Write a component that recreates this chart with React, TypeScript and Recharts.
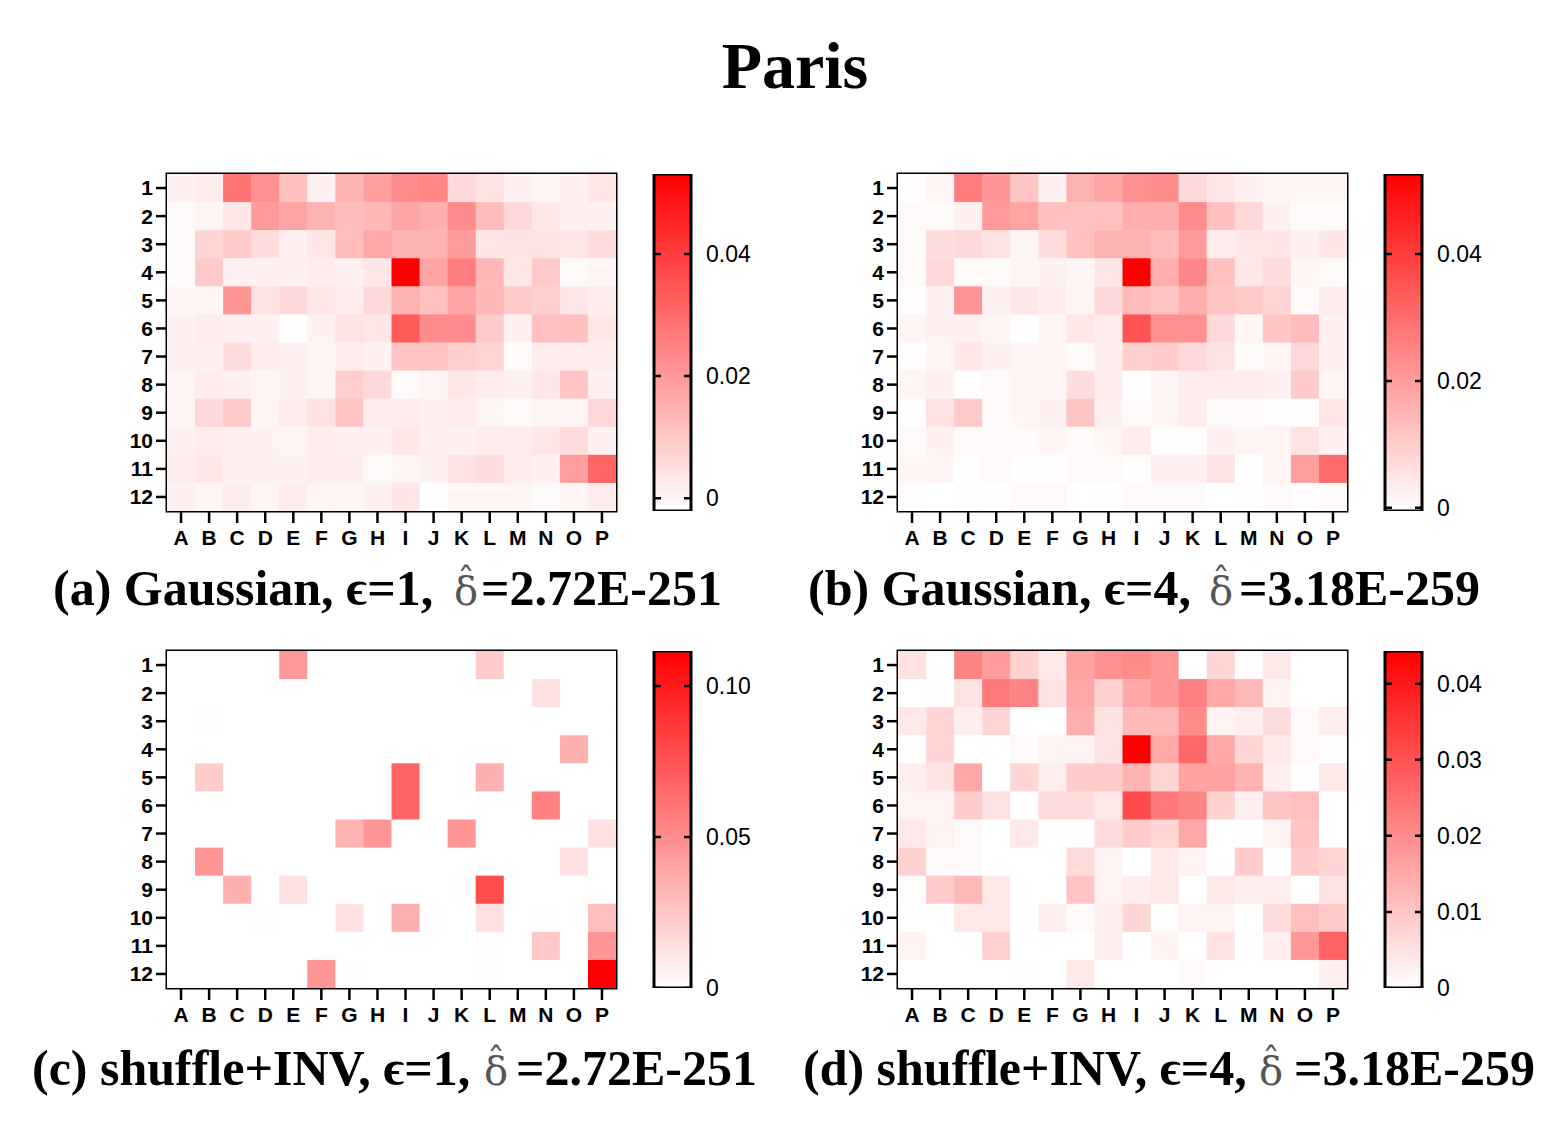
import React from 'react';
import { ScatterChart, Scatter, XAxis, YAxis, ReferenceArea } from 'recharts';

// ---------- labels ----------
const colLabels = ['A', 'B', 'C', 'D', 'E', 'F', 'G', 'H', 'I', 'J', 'K', 'L', 'M', 'N', 'O', 'P'];
const rowLabels = ['1', '2', '3', '4', '5', '6', '7', '8', '9', '10', '11', '12'];

// ---------- values (units of 1e-3) ----------
const gaussianEps1 = [
  [3, 4, 29, 23, 13, 3, 16, 20, 24, 25, 8, 6, 3, 2, 3, 5],
  [1, 2, 5, 21, 19, 16, 14, 15, 19, 17, 24, 14, 8, 5, 3, 3],
  [1, 9, 11, 7, 3, 5, 14, 18, 16, 16, 21, 5, 6, 6, 5, 7],
  [1, 11, 3, 3, 3, 4, 3, 5, 53, 19, 27, 15, 5, 11, 1, 2],
  [2, 2, 22, 6, 8, 5, 4, 8, 16, 13, 19, 15, 11, 10, 5, 4],
  [3, 4, 3, 3, 0.5, 3, 6, 5, 34, 24, 24, 11, 3, 13, 13, 5],
  [3, 3, 7, 4, 3, 2, 4, 3, 12, 12, 10, 9, 1, 4, 4, 4],
  [2, 4, 3, 2, 3, 2, 10, 8, 1, 2, 5, 4, 3, 5, 12, 3],
  [2, 8, 11, 2, 4, 6, 12, 4, 4, 3, 4, 2, 1, 2, 2, 8],
  [3, 4, 3, 3, 2, 4, 3, 3, 5, 3, 3, 4, 4, 5, 7, 3],
  [4, 5, 3, 3, 3, 4, 4, 1, 2, 3, 6, 7, 4, 3, 20, 32],
  [3, 2, 4, 2, 4, 2, 2, 3, 5, 0, 2, 2, 2, 1, 2, 4],
];

const gaussianEps4 = [
  [0.5, 2, 27, 22, 12, 3, 16, 19, 23, 24, 8, 5, 3, 2, 2, 2],
  [1, 1, 3, 21, 19, 13, 13, 13, 17, 17, 24, 13, 8, 3, 1, 1],
  [1, 7, 8, 6, 2, 7, 13, 16, 16, 14, 21, 4, 5, 5, 3, 5],
  [1, 8, 1, 1, 2, 3, 2, 5, 53, 17, 25, 13, 5, 7, 2, 1],
  [0.5, 3, 22, 3, 5, 4, 2, 8, 14, 12, 17, 12, 11, 9, 1, 4],
  [2, 3, 3, 2, 0.5, 2, 5, 4, 36, 23, 23, 8, 2, 12, 14, 3],
  [0.5, 2, 5, 3, 2, 2, 1, 4, 10, 11, 8, 6, 1, 2, 8, 3],
  [2, 3, 0.5, 1, 2, 2, 7, 4, 0, 2, 4, 4, 4, 3, 11, 2],
  [0.5, 6, 11, 1, 2, 3, 12, 3, 1, 2, 4, 1, 1, 0.5, 0.5, 5],
  [1, 3, 1, 1, 1, 2, 1, 2, 4, 0.5, 0.5, 3, 2, 2, 6, 3],
  [2, 2, 0.5, 1, 0.5, 0.5, 1, 1, 0.5, 3, 3, 6, 0, 2, 20, 31],
  [0.5, 0, 0.5, 0.5, 1, 1, 0, 0.5, 1, 1, 1, 0, 0.5, 1, 0.5, 1],
];

const shuffleInvEps1 = [
  [0, 0, 0, 0, 45, 0, 0, 0, 0, 0, 0, 22, 0, 0, 0, 0],
  [0, 0, 0, 0, 0, 0, 0, 0, 0, 0, 0, 0, 0, 13, 0, 0],
  [0, 1, 0, 0, 0, 0, 0, 0, 0, 0, 0, 0, 0, 0, 0, 0],
  [0, 0, 0, 0, 0, 0, 0, 0, 0, 0, 0, 0, 0, 0, 34, 0],
  [0, 22, 0, 0, 0, 0, 0, 0, 68, 0, 0, 34, 0, 0, 0, 0],
  [0, 0, 0, 0, 0, 0, 0, 0, 68, 0, 0, 0, 0, 55, 0, 0],
  [0, 0, 0, 0, 0, 0, 33, 46, 0, 0, 46, 0, 0, 0, 0, 13],
  [0, 46, 0, 0, 0, 0, 0, 0, 0, 0, 0, 0, 0, 0, 13, 0],
  [0, 0, 34, 0, 13, 0, 0, 0, 0, 0, 1, 78, 0, 0, 0, 0],
  [0, 0, 0, 1, 0, 0, 13, 0, 34, 1, 0, 13, 0, 1, 0, 28],
  [0, 0, 0, 0, 0, 0, 0, 0, 0, 0, 0, 1, 0, 24, 0, 46],
  [0, 0, 0, 0, 0, 46, 1, 0, 0, 0, 0, 1, 0, 0, 0, 111],
];

const shuffleInvEps4 = [
  [5, 0, 21, 17, 8, 4, 16, 19, 20, 18, 0, 7, 0.5, 4, 0, 0],
  [0, 0.5, 5, 23, 21, 5, 15, 8, 15, 18, 22, 15, 12, 2, 0, 0],
  [4, 7, 3, 7, 0, 0, 14, 5, 12, 12, 20, 2, 3, 6, 1, 3],
  [0, 7, 0, 0, 1, 2, 2, 5, 44, 15, 26, 15, 7, 4, 1, 0],
  [3, 5, 15, 0, 7, 3, 9, 9, 13, 7, 16, 16, 13, 3, 0, 4],
  [2, 2, 9, 5, 0, 6, 6, 4, 31, 23, 21, 8, 3, 10, 11, 0],
  [4, 2, 1, 0, 4, 0, 0, 6, 9, 7, 15, 0, 0, 2, 10, 0],
  [8, 1, 1, 0, 0, 0, 6, 2, 0, 4, 2, 0, 9, 0, 9, 7],
  [0.5, 9, 12, 4, 0, 0, 10, 2, 3, 4, 0, 4, 3, 3, 0, 5],
  [0, 0, 4, 4, 0, 3, 1, 3, 7, 0.5, 2, 2, 0, 6, 11, 9],
  [2, 0, 0, 8, 0, 0, 0, 3, 0, 2, 0, 5, 0, 3, 18, 27],
  [0, 0, 0, 0, 0.5, 0, 4, 0, 0, 0, 1, 0, 0, 0, 0, 3],
];

// colour-bar ranges (in data units) and ticks
const barRangeA = [-0.0021, 0.0531];
const barRangeB = [-0.0005, 0.0526];
const barRangeC = [0, 0.1116];
const barRangeD = [0, 0.0443];
const barTicksA = [0, 0.02, 0.04];
const barTicksB = [0, 0.02, 0.04];
const barTicksC = [0, 0.05, 0.1];
const barTicksD = [0, 0.01, 0.02, 0.03, 0.04];

// ---------- layout ----------
const PW = 449;
const PH = 337;
const YW = 48;
const XH = 46;
const M = 10;
const xTicks = colLabels.map((_, i) => i + 0.5);
const yTicks = rowLabels.map((_, i) => i + 0.5);

const toCells = (grid: number[][]) => {
  const out: { x: number; y: number; v: number }[] = [];
  grid.forEach((row, r) =>
    row.forEach((val, c) => out.push({ x: c + 0.5, y: r + 0.5, v: val / 1000 }))
  );
  return out;
};

const cellColor = (v: number, vmax: number) => {
  const t = Math.max(0, Math.min(1, v / vmax));
  const g = Math.round(255 * (1 - t));
  return `rgb(255,${g},${g})`;
};

const sans = '"Liberation Sans", Arial, sans-serif';
const tickFont = { fill: '#000', fontSize: 21, fontWeight: 700, fontFamily: sans };

function Heatmap({
  plotLeft,
  plotTop,
  grid,
  vmax,
}: {
  plotLeft: number;
  plotTop: number;
  grid: number[][];
  vmax: number;
}) {
  const cells = toCells(grid);
  const cw = PW / 16;
  const ch = PH / 12;
  return (
    <div style={{ position: 'absolute', left: plotLeft - M - YW, top: plotTop - M }}>
      <ScatterChart
        width={YW + PW + 2 * M}
        height={PH + XH + 2 * M}
        margin={{ top: M, right: M, bottom: M, left: M }}
      >
        <XAxis
          type="number"
          dataKey="x"
          domain={[0, 16]}
          ticks={xTicks}
          interval={0}
          tickFormatter={(v: number) => colLabels[Math.floor(v)]}
          axisLine={false}
          tickLine={{ stroke: '#000', strokeWidth: 2.5 }}
          tickSize={12}
          tickMargin={7}
          tick={tickFont}
          height={XH}
          allowDataOverflow
        />
        <YAxis
          type="number"
          dataKey="y"
          domain={[0, 12]}
          reversed
          ticks={yTicks}
          interval={0}
          tickFormatter={(v: number) => rowLabels[Math.floor(v)]}
          axisLine={false}
          tickLine={{ stroke: '#000', strokeWidth: 2.5 }}
          tickSize={11}
          tickMargin={3}
          tick={tickFont}
          width={YW}
          allowDataOverflow
        />
        <Scatter
          data={cells}
          isAnimationActive={false}
          shape={(p: any) => (
            <rect
              x={p.cx - cw / 2}
              y={p.cy - ch / 2}
              width={cw + 0.5}
              height={ch + 0.5}
              fill={cellColor(p.payload.v, vmax)}
            />
          )}
        />
        <ReferenceArea
          x1={0}
          x2={16}
          y1={0}
          y2={12}
          fill="none"
          stroke="#000"
          strokeWidth={3}
          ifOverflow="visible"
        />
      </ScatterChart>
    </div>
  );
}

function ColorBar({
  left,
  top,
  range,
  ticks,
  id,
}: {
  left: number;
  top: number;
  range: number[];
  ticks: number[];
  id: string;
}) {
  const BW = 37;
  const LW = 90;
  const CM = 20;
  const mid = [{ x: 0.5, y: (range[0] + range[1]) / 2 }];
  const tickPts = ticks.map((t) => ({ x: 0.5, y: t }));
  return (
    <div style={{ position: 'absolute', left: left - CM, top: top - CM }}>
      <ScatterChart
        width={CM + BW + LW + CM}
        height={PH + 2 * CM}
        margin={{ top: CM, right: CM, bottom: CM, left: CM }}
      >
        <defs>
          <linearGradient id={id} x1="0" y1="0" x2="0" y2="1">
            <stop offset="0%" stopColor="#ff0000" />
            <stop offset="100%" stopColor="#ffffff" />
          </linearGradient>
        </defs>
        <XAxis type="number" dataKey="x" domain={[0, 1]} hide />
        <YAxis
          type="number"
          dataKey="y"
          orientation="right"
          domain={range}
          ticks={ticks}
          interval={0}
          tickFormatter={(v: number) => (v === 0 ? '0' : v.toFixed(2))}
          axisLine={false}
          tickLine={false}
          tickSize={0}
          tickMargin={15}
          width={LW}
          tick={{ fill: '#000', fontSize: 23, fontFamily: sans }}
          allowDataOverflow
        />
        <Scatter
          data={mid}
          isAnimationActive={false}
          shape={(p: any) => (
            <rect
              x={p.cx - BW / 2}
              y={p.cy - PH / 2}
              width={BW}
              height={PH}
              fill={`url(#${id})`}
              stroke="#000"
              strokeWidth={3}
            />
          )}
        />
        <Scatter
          data={tickPts}
          isAnimationActive={false}
          shape={(p: any) => (
            <g>
              <line
                x1={p.cx - BW / 2}
                x2={p.cx - BW / 2 + 7}
                y1={p.cy}
                y2={p.cy}
                stroke="#000"
                strokeWidth={2.5}
              />
              <line
                x1={p.cx + BW / 2 - 7}
                x2={p.cx + BW / 2}
                y1={p.cy}
                y2={p.cy}
                stroke="#000"
                strokeWidth={2.5}
              />
            </g>
          )}
        />
      </ScatterChart>
    </div>
  );
}

const serif = '"Liberation Serif", "Times New Roman", serif';

function Caption({
  left,
  right,
  dx,
  y,
  pre,
  post,
}: {
  left: number;
  right: number;
  dx: number;
  y: number;
  pre: string;
  post: string;
}) {
  const common = { fontFamily: serif, fontWeight: 700, fontSize: 50, fill: '#000' };
  return (
    <g>
      <text x={left} y={y} textAnchor="start" {...common}>
        {pre}
      </text>
      <text
        x={dx}
        y={y}
        textAnchor="middle"
        fontFamily='"DejaVu Serif", serif'
        fontWeight={400}
        fontSize={40}
        fill="#555"
      >
        {'\u03B4'}
        <tspan x={dx} dy={-12} fontSize={36}>
          {'\u02C6'}
        </tspan>
      </text>
      <text x={right} y={y} textAnchor="end" {...common}>
        {post}
      </text>
    </g>
  );
}

export default function App() {
  return (
    <div
      style={{
        position: 'absolute',
        left: 0,
        top: 0,
        width: 1567,
        height: 1132,
        background: '#fff',
        overflow: 'hidden',
      }}
    >
      <Heatmap plotLeft={167} plotTop={174} grid={gaussianEps1} vmax={0.053} />
      <ColorBar left={654} top={174} range={barRangeA} ticks={barTicksA} id="gA" />
      <Heatmap plotLeft={898} plotTop={174} grid={gaussianEps4} vmax={0.053} />
      <ColorBar left={1385} top={174} range={barRangeB} ticks={barTicksB} id="gB" />
      <Heatmap plotLeft={167} plotTop={651} grid={shuffleInvEps1} vmax={0.111} />
      <ColorBar left={654} top={651} range={barRangeC} ticks={barTicksC} id="gC" />
      <Heatmap plotLeft={898} plotTop={651} grid={shuffleInvEps4} vmax={0.044} />
      <ColorBar left={1385} top={651} range={barRangeD} ticks={barTicksD} id="gD" />

      <svg
        width={1567}
        height={1132}
        style={{ position: 'absolute', left: 0, top: 0, pointerEvents: 'none' }}
      >
        <text
          x={795}
          y={88}
          textAnchor="middle"
          fontFamily={serif}
          fontWeight={700}
          fontSize={66}
          fill="#000"
        >
          Paris
        </text>
        <Caption left={53} right={722} dx={466} y={605} pre={'(a) Gaussian, \u03F5=1,'} post={'=2.72E-251'} />
        <Caption left={808} right={1480} dx={1221} y={605} pre={'(b) Gaussian, \u03F5=4,'} post={'=3.18E-259'} />
        <Caption left={32} right={757} dx={496} y={1085} pre={'(c) shuffle+INV, \u03F5=1,'} post={'=2.72E-251'} />
        <Caption left={803} right={1535} dx={1271} y={1085} pre={'(d) shuffle+INV, \u03F5=4,'} post={'=3.18E-259'} />
      </svg>
    </div>
  );
}
